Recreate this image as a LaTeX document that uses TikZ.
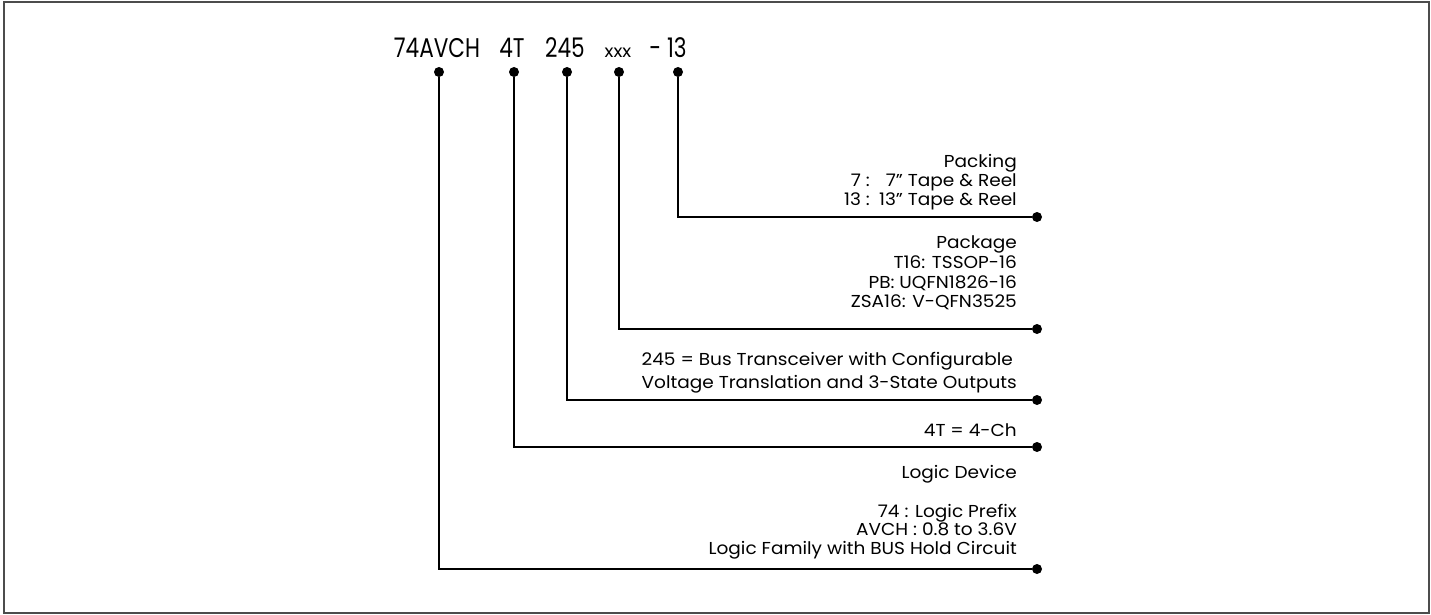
\documentclass[tikz,border=0pt]{standalone}
\usepackage{fontspec}
\setmainfont{Poppins}[FakeStretch=0.8]
\newfontfamily\bodyfont{Poppins}[FakeStretch=1.07]
\begin{document}
\begin{tikzpicture}[x=1pt,y=-1pt,
  lbl/.style={inner sep=0, anchor=base east, font=\bodyfont\fontsize{17.3}{19}\selectfont},
  ttl/.style={inner sep=0, anchor=base, font=\fontsize{27}{30}\selectfont},
  lead/.style={line width=1.3pt},
  dot/.style={circle, fill, inner sep=0, minimum size=10pt}]
\useasboundingbox (0,0) rectangle (1431,615);
\draw[gray!60!black, line width=1.5pt] (4,2) rectangle (1429,613);
% title
\node[ttl] (t74) at (437,58) {74AVCH};
\node[ttl] (t4t) at (512,58) {4T};
\node[ttl] (t245) at (565,58) {245};
\node[ttl, font=\bodyfont\fontsize{17.3}{19}\selectfont] (txxx) at (618,58) {xxx};
\node[ttl] (t13) at (668,58) {- 13};
% top dots
\node[dot] (d74) at (439,72) {};
\node[dot] (d4t) at (514,72) {};
\node[dot] (d245) at (567,72) {};
\node[dot] (dxxx) at (619,72) {};
\node[dot] (d13) at (678,72) {};
% end dots
\node[dot] (e13) at (1037,217) {};
\node[dot] (exxx) at (1037,329) {};
\node[dot] (e245) at (1037,400) {};
\node[dot] (e4t) at (1037,447) {};
\node[dot] (e74) at (1037,569) {};
% leaders
\draw[lead] (d13) |- (e13);
\draw[lead] (dxxx) |- (exxx);
\draw[lead] (d245) |- (e245);
\draw[lead] (d4t) |- (e4t);
\draw[lead] (d74) |- (e74);
% labels
\node[lbl] (pk0) at (1017,167) {Packing};
\node[lbl] (pk1a) at (870,186) {7 :};
\node[lbl] (pk1b) at (1017,186) {7” Tape \& Reel};
\node[lbl] (pk2a) at (870,205) {13 :};
\node[lbl] (pk2b) at (1017,205) {13” Tape \& Reel};
\node[lbl] (pg0) at (1017,248) {Package};
\node[lbl] (pg1) at (1017,268) {T16: TSSOP-16};
\node[lbl] (pg2) at (1017,288) {PB: UQFN1826-16};
\node[lbl] (pg3) at (1017,307) {ZSA16: V-QFN3525};
\node[lbl] (f1) at (1013,365) {245 = Bus Transceiver with Configurable};
\node[lbl] (f2) at (1017,388) {Voltage Translation and 3-State Outputs};
\node[lbl] (ch) at (1017,436) {4T = 4-Ch};
\node[lbl] (ld) at (1017,478) {Logic Device};
\node[lbl] (lp1) at (1017,517) {74 : Logic Prefix};
\node[lbl] (lp2) at (1017,535) {AVCH : 0.8 to 3.6V};
\node[lbl] (lp3) at (1017,554) {Logic Family with BUS Hold Circuit};
\end{tikzpicture}
\end{document}
